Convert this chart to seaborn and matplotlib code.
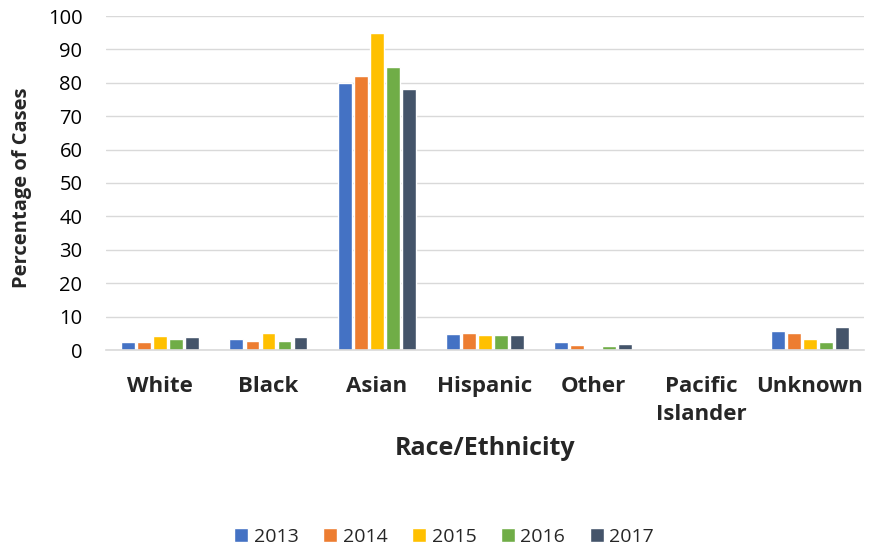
import pandas as pd
import seaborn as sns
import matplotlib.pyplot as plt

categories = ["White", "Black", "Asian", "Hispanic", "Other", "Pacific\nIslander", "Unknown"]
years = ["2013", "2014", "2015", "2016", "2017"]
values = {
    "2013": [2.5, 3.4, 80.0, 4.8, 2.3, 0.3, 5.6],
    "2014": [2.5, 2.7, 82.0, 5.2, 1.4, 0.0, 5.2],
    "2015": [4.1, 5.2, 94.9, 4.6, 0.0, 0.0, 3.4],
    "2016": [3.4, 2.7, 84.7, 4.6, 1.2, 0.0, 2.4],
    "2017": [3.9, 3.9, 78.1, 4.6, 1.7, 0.0, 6.9],
}
colors = ["#4472C4", "#ED7D31", "#FFC000", "#70AD47", "#44546A"]


def main():
    rows = []
    for y in years:
        for c, v in zip(categories, values[y]):
            rows.append([c, y, v])
    df = pd.DataFrame(rows, columns=["Race/Ethnicity", "Year", "Percentage of Cases"])

    sns.set_theme(style="white")
    plt.rcParams["font.family"] = ["Open Sans", "DejaVu Sans"]
    fig = plt.figure(figsize=(8.69, 5.52), dpi=100)
    # axes box: x 106..864 px, y 16..350 px
    ax = fig.add_axes([106 / 869, 1 - 350 / 552, 758 / 869, 334 / 552])
    sns.barplot(data=df, x="Race/Ethnicity", y="Percentage of Cases", hue="Year",
                palette=colors, width=0.74, gap=0.14, ax=ax, saturation=1)

    ax.set_ylim(0, 100)
    ax.set_yticks(range(0, 101, 10))
    ax.set_xlim(-0.5, len(categories) - 0.5)
    ax.yaxis.grid(True, color="#D9D9D9", linewidth=1)
    ax.set_axisbelow(True)
    for s in ["left", "right", "top"]:
        ax.spines[s].set_visible(False)
    ax.spines["bottom"].set_color("#D9D9D9")
    ax.spines["bottom"].set_linewidth(1.2)
    ax.tick_params(axis="both", length=0)
    ax.tick_params(axis="y", labelsize=14.5, colors="#000000", pad=17)
    ax.tick_params(axis="x", pad=19)
    for lab in ax.get_xticklabels():
        lab.set_fontsize(16)
        lab.set_fontweight("bold")
        lab.set_verticalalignment("top")
        lab.set_linespacing(1.4)
    ax.set_ylabel("Percentage of Cases", fontsize=14.5, fontweight="bold")
    ax.yaxis.set_label_coords(-0.097, 0.485)
    ax.set_xlabel("Race/Ethnicity", fontsize=18, fontweight="bold")
    ax.xaxis.set_label_coords(0.5, -0.256)

    handles, labels = ax.get_legend_handles_labels()
    ax.legend(handles, labels, loc="center", bbox_to_anchor=(0.511, 0.027),
              bbox_transform=fig.transFigure, ncol=5, frameon=False,
              fontsize=14, handlelength=0.72, handleheight=0.72,
              handletextpad=0.3, columnspacing=1.25)

    fig.savefig("out.png", dpi=100)


if __name__ == '__main__':
    main()
